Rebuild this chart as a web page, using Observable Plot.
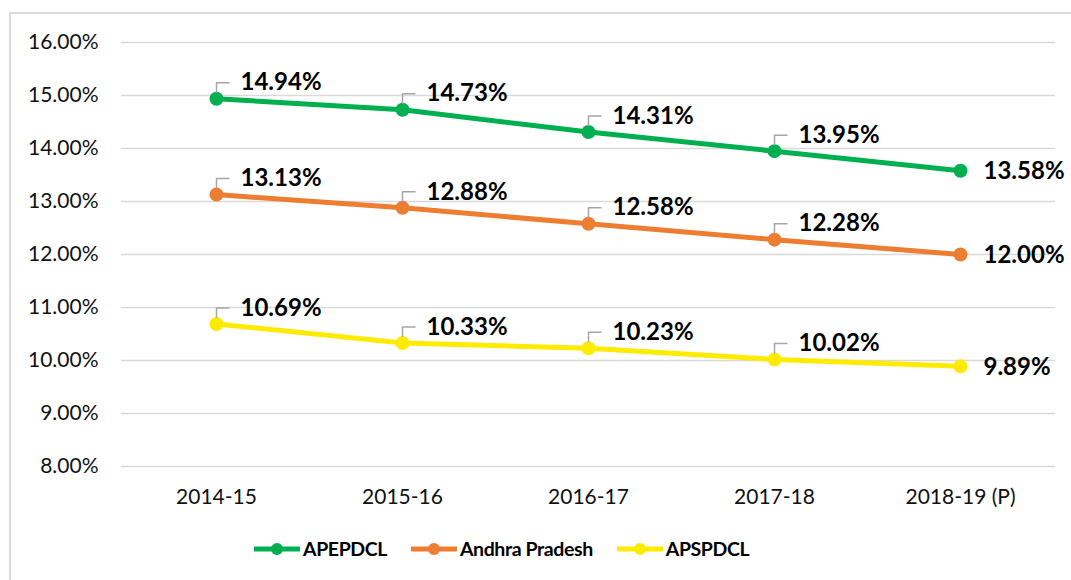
<!DOCTYPE html>
<html>
<head>
<meta charset="utf-8">
<script src="https://cdn.jsdelivr.net/npm/d3@7"></script>
<script src="https://cdn.jsdelivr.net/npm/@observablehq/plot@0.6"></script>
<style>
  body { margin: 0; background: #fff; font-family: Lato, "Open Sans", sans-serif; }
  #wrap { position: relative; width: 1071px; height: 580px; overflow: hidden; }
  #frame { position: absolute; left: 9px; top: 12px; width: 1100px; height: 600px;
           border-left: 2px solid #d9d9d9; border-top: 2px solid #d9d9d9; }
  #chart { position: absolute; left: 0; top: 0; }
  #legend { position: absolute; left: 254px; top: 537px; display: flex; align-items: center;
            font-weight: bold; font-size: 19.5px; letter-spacing: -0.4px; color: #000; }
  .item { display: flex; align-items: center; margin-right: 24px; }
  .item svg { margin-right: 3px; }
</style>
</head>
<body>
<div id="wrap">
  <div id="frame"></div>
  <div id="chart"></div>
  <div id="legend"></div>
</div>
<script>
const years = ["2014-15", "2015-16", "2016-17", "2017-18", "2018-19 (P)"];
const seriesNames = ["APEPDCL", "Andhra Pradesh", "APSPDCL"];
const apepdcl = [14.94, 14.73, 14.31, 13.95, 13.58];
const andhraPradesh = [13.13, 12.88, 12.58, 12.28, 12.00];
const apspdcl = [10.69, 10.33, 10.23, 10.02, 9.89];
const seriesColors = ["#00B050", "#ED7D31", "#FFEB00"];
const yTicks = [8, 9, 10, 11, 12, 13, 14, 15, 16];

const seriesValues = [apepdcl, andhraPradesh, apspdcl];
const rows = [];
seriesNames.forEach((s, i) => {
  years.forEach((y, j) => {
    rows.push({series: s, year: y, value: seriesValues[i][j], last: j === years.length - 1});
  });
});
const fmt = d => d.toFixed(2) + "%";

// leader line symbol: up from the point, then right
const leader = {
  draw(context) {
    context.moveTo(0, -6);
    context.lineTo(0, -16);
    context.lineTo(13, -16);
  }
};

const chart = Plot.plot({
  width: 1071,
  height: 510,
  marginLeft: 121,
  marginRight: 16,
  marginTop: 42,
  marginBottom: 44,
  style: {background: "transparent", fontFamily: "Lato, 'Open Sans', sans-serif", color: "#111"},
  x: {type: "point", domain: years, padding: 0.5, label: null},
  y: {domain: [8, 16], label: null},
  color: {domain: seriesNames, range: seriesColors},
  marks: [
    Plot.gridY(yTicks, {stroke: "#d9d9d9", strokeOpacity: 1, strokeWidth: 1.5}),
    Plot.axisY(yTicks, {tickSize: 0, tickPadding: 23, tickFormat: fmt, fontSize: 21, label: null}),
    Plot.axisX({tickSize: 0, tickPadding: 23, fontSize: 21, label: null}),
    Plot.line(rows, {x: "year", y: "value", z: "series", stroke: "series", strokeWidth: 5}),
    Plot.dot(rows, {x: "year", y: "value", fill: "series", r: 7}),
    Plot.dot(rows.filter(d => !d.last), {x: "year", y: "value", symbol: leader, stroke: "#a6a6a6", strokeWidth: 1.5, fill: "none"}),
    Plot.text(rows.filter(d => !d.last), {x: "year", y: "value", text: d => fmt(d.value), dx: 24, dy: -16,
      textAnchor: "start", fontWeight: "bold", fontSize: 24, fill: "#000"}),
    Plot.text(rows.filter(d => d.last), {x: "year", y: "value", text: d => fmt(d.value), dx: 23, dy: 1,
      textAnchor: "start", fontWeight: "bold", fontSize: 24, fill: "#000"})
  ]
});
document.getElementById("chart").appendChild(chart);

const legend = document.getElementById("legend");
seriesNames.forEach((s, i) => {
  const item = document.createElement("div");
  item.className = "item";
  item.innerHTML = `<svg width="46" height="16"><line x1="1" y1="8" x2="45" y2="8" stroke="${seriesColors[i]}" stroke-width="5" stroke-linecap="round"/><circle cx="23" cy="8" r="6" fill="${seriesColors[i]}"/></svg><span>${s}</span>`;
  legend.appendChild(item);
});
</script>
</body>
</html>
